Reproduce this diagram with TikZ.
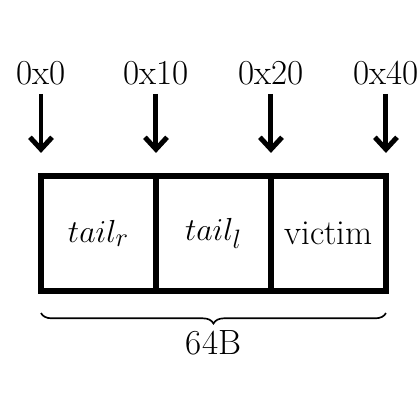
\documentclass[tikz,border=0pt]{standalone}
\usetikzlibrary{arrows.meta,positioning,decorations.pathreplacing}

\begin{document}
\begin{tikzpicture}[>={Straight Barb[length=6.5pt,width=12pt]}, x=0.4cm, y=0.4cm,
  font=\fontsize{19pt}{22pt}\selectfont,
  cell/.style={draw, line width=3pt, minimum width=2.19cm, minimum height=2.19cm,
    inner sep=0pt, outer sep=0pt},
  addr/.style={anchor=south},
  ptr/.style={->, line width=2.7pt, shorten <=1pt, shorten >=0.44cm}]
\useasboundingbox (0,0) rectangle (20,20);
% the three chunks
\node[cell] (tr) at (4.69,8.88) {$tail_r$};
\node[cell, right=0pt of tr] (tl) {$tail_l$};
\node[cell, right=0pt of tl] (vic) {victim};
% addresses
\node[addr, above=1.6cm of tr.north west] (a0) {0x0};
\node[addr, above=1.6cm of tl.north west] (a10) {0x10};
\node[addr, above=1.6cm of vic.north west] (a20) {0x20};
\node[addr, above=1.6cm of vic.north east] (a40) {0x40};
\draw[ptr] (a0) -- (a0 |- tr.north);
\draw[ptr] (a10) -- (a10 |- tl.north);
\draw[ptr] (a20) -- (a20 |- vic.north);
\draw[ptr] (a40) -- (a40 |- vic.north);
% size
\draw[line width=0.9pt, decorate, decoration={brace, amplitude=0.2cm}]
  ([yshift=-0.42cm]vic.south east) -- ([yshift=-0.42cm]tr.south west)
  node[midway, below=0.2cm] (size) {64B};
\end{tikzpicture}
\end{document}
